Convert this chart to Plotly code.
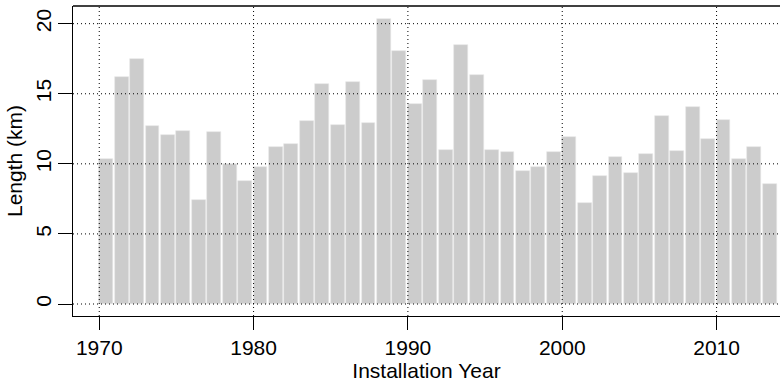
import plotly.graph_objects as go

years = list(range(1970, 2014))
lengths = [10.32, 16.21, 17.48, 12.70, 12.05, 12.32, 7.44, 12.29, 9.99, 8.77,
           9.79, 11.17, 11.41, 13.03, 15.72, 12.79, 15.83, 12.93, 20.35, 18.05,
           14.24, 15.98, 10.98, 18.47, 16.31, 10.96, 10.82, 9.51, 9.79, 10.84,
           11.89, 7.23, 9.13, 10.49, 9.34, 10.72, 13.39, 10.89, 14.03, 11.79,
           13.12, 10.32, 11.17, 8.58]
x_ticks = [1970, 1980, 1990, 2000, 2010]
y_ticks = [0, 5, 10, 15, 20]

FONT = "Liberation Sans, Arial, Helvetica, sans-serif"
FS = 21
DOT = "1px,3px"

fig = go.Figure()
fig.add_trace(go.Bar(
    x=years, y=lengths, offset=0, width=0.9,
    marker=dict(color="#cccccc", line=dict(color="#e6e6e6", width=0.6)),
    hoverinfo="x+y",
))

shapes = []
for t in x_ticks:
    shapes.append(dict(type="line", xref="x", yref="paper", x0=t, x1=t, y0=0, y1=1,
                       line=dict(color="black", width=1, dash=DOT), layer="above"))
for t in y_ticks:
    shapes.append(dict(type="line", xref="paper", yref="y", x0=0, x1=1, y0=t, y1=t,
                       line=dict(color="black", width=1, dash=DOT), layer="above"))
# top border of box
shapes.append(dict(type="line", xref="paper", yref="paper", x0=0, x1=1, y0=1, y1=1,
                   line=dict(color="black", width=1.3), layer="above"))

fig.update_layout(
    width=780, height=382,
    margin=dict(l=73, r=0, t=6, b=66),
    paper_bgcolor="white", plot_bgcolor="white",
    font=dict(family=FONT, size=FS, color="black"),
    showlegend=False,
    shapes=shapes,
    bargap=0,
)
fig.update_xaxes(
    range=[1968.30, 2014.11], tickmode="array", tickvals=x_ticks,
    ticks="outside", ticklen=13, tickwidth=1.3, tickcolor="black",
    showline=True, linecolor="black", linewidth=1.3, mirror=False,
    showgrid=False, zeroline=False,
    title=dict(text="Installation Year", standoff=4, font=dict(size=FS)),
    tickfont=dict(size=FS),
)
fig.update_yaxes(
    range=[-0.856, 21.26], tickmode="array", tickvals=y_ticks,
    ticks="outside", ticklen=14, tickwidth=1.3, tickcolor="black", tickangle=-90,
    showline=True, linecolor="black", linewidth=1.3, mirror=False,
    showgrid=False, zeroline=False, ticklabelstandoff=-2,
    title=dict(text="Length (km)", standoff=4, font=dict(size=FS)),
    tickfont=dict(size=FS),
)

fig.write_html("out.html")
